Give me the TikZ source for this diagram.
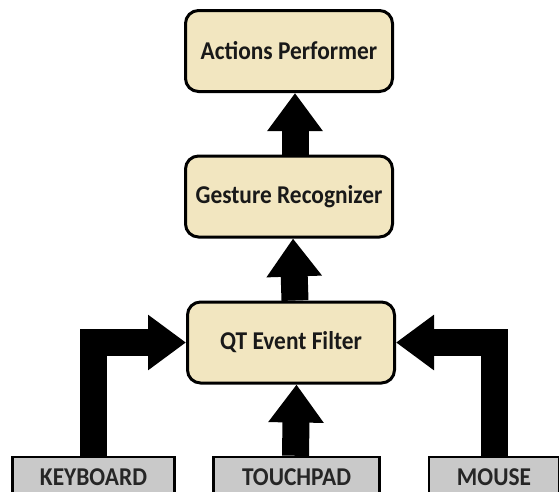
\documentclass[tikz,border=0pt]{standalone}
\usepackage{fontspec}
\setmainfont{Carlito}
\usetikzlibrary{arrows.meta}
\definecolor{beige}{HTML}{F2E6C0}
\definecolor{graybox}{HTML}{C9C9C9}
\newcommand{\tallt}[1]{\scalebox{1.04}[1.14]{#1}}
\begin{document}
\begin{tikzpicture}[x=1pt,y=-1pt,
  procbox/.style={draw=black, line width=3pt, fill=beige, rounded corners=13pt,
    minimum width=207pt, minimum height=81pt, inner sep=0pt,
    font=\fontsize{22.5}{24}\selectfont\bfseries, text=black!90},
  devbox/.style={draw=black, line width=2.5pt, fill=graybox,
    inner sep=0pt, font=\fontsize{22.5}{24}\selectfont\bfseries, text=black!85},
  bigarrow/.style={draw=black, line width=27pt, line join=miter,
    -{Triangle[width=53pt,length=38pt]}}]
\useasboundingbox (0,0) rectangle (559,491);
\node[procbox] (act) at (289,51) {\tallt{Actions Performer}};
\node[procbox] (ges) at (289,196.5) {\tallt{Gesture Recognizer}};
\node[procbox] (qt) at (291,342.5) {\tallt{QT Event Filter}};
\node[devbox, minimum width=162pt, minimum height=40pt] (kb) at (93.5,477) {\raisebox{-2pt}{\tallt{KEYBOARD}}};
\node[devbox, minimum width=166pt, minimum height=40pt] (tp) at (296.5,477) {\raisebox{-2pt}{\tallt{TOUCHPAD}}};
\node[devbox, minimum width=130pt, minimum height=40pt] (ms) at (494,477) {\raisebox{-2pt}{\tallt{MOUSE}}};
\draw[bigarrow] ([xshift=6pt]ges.north) -- ([xshift=6pt]act.south);
\draw[bigarrow] ([xshift=4pt]qt.north) -- ([xshift=4pt]ges.south);
\draw[bigarrow] ([xshift=-1pt]tp.north) -- (tp.north |- qt.south);
\draw[bigarrow] (kb.north) |- (qt.west);
\draw[bigarrow] (ms.north) |- (qt.east);
\end{tikzpicture}
\end{document}
